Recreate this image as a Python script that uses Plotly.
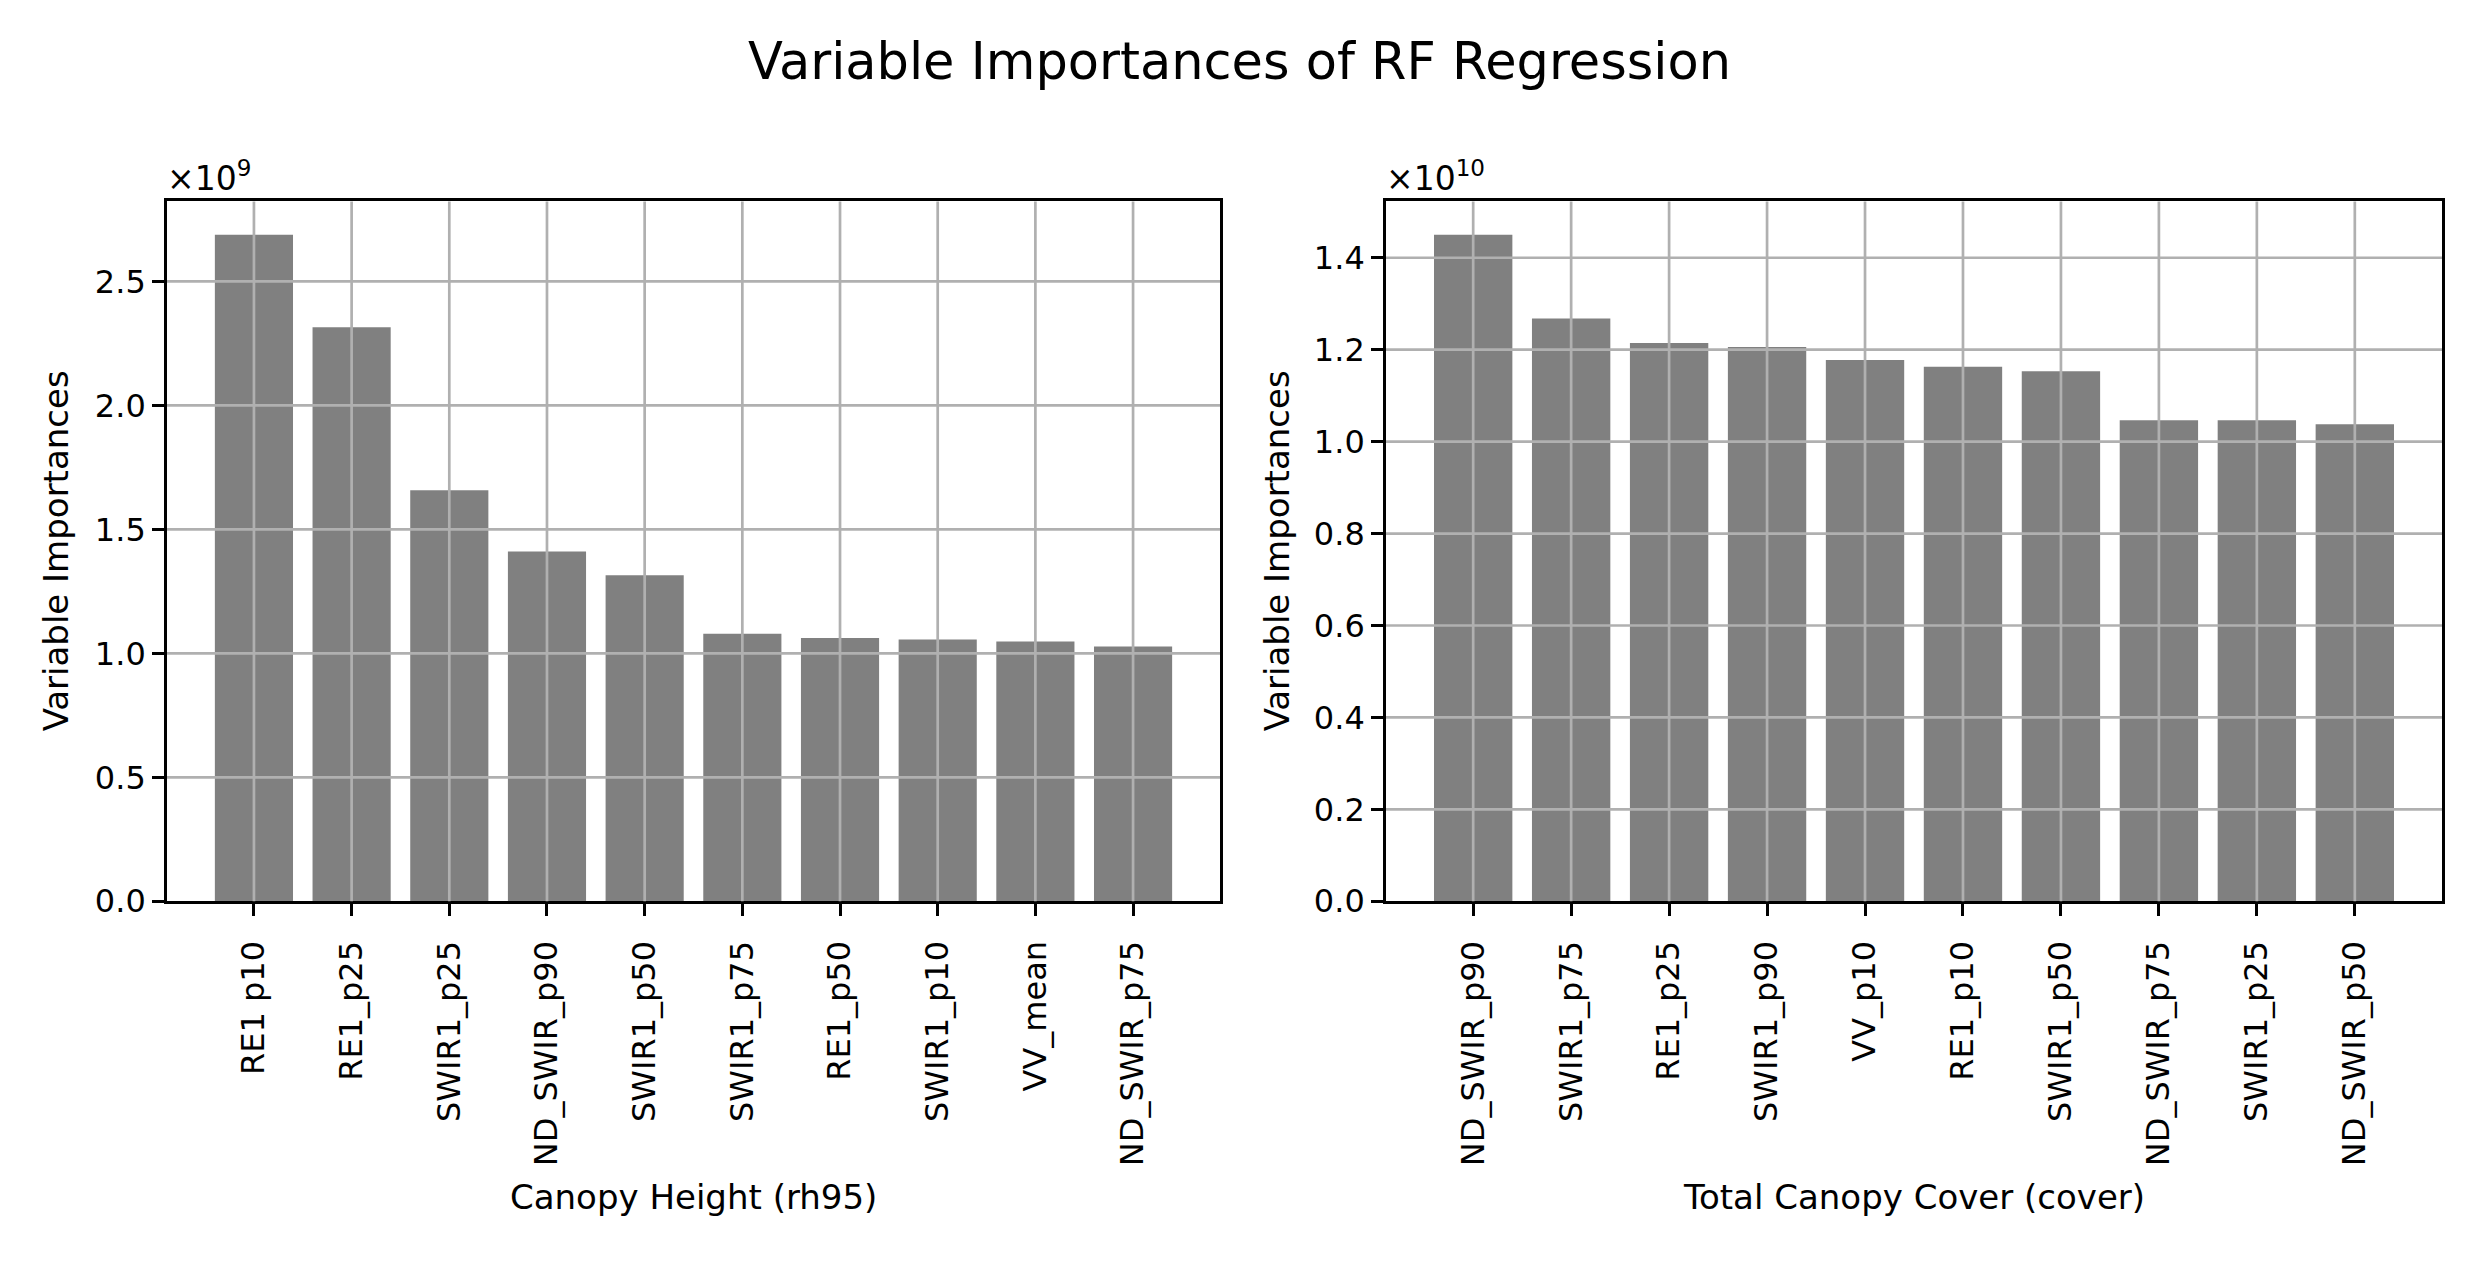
import numpy as np
import plotly.graph_objects as go

# ---------------- data ----------------
height_features = ["RE1 p10", "RE1_p25", "SWIR1_p25", "ND_SWIR_p90", "SWIR1_p50",
                   "SWIR1_p75", "RE1_p50", "SWIR1_p10", "VV_mean", "ND_SWIR_p75"]
height_importance = [2.688e9, 2.315e9, 1.658e9, 1.411e9, 1.3145e9,
                     1.079e9, 1.062e9, 1.056e9, 1.048e9, 1.028e9]

cover_features = ["ND_SWIR_p90", "SWIR1_p75", "RE1_p25", "SWIR1_p90", "VV_p10",
                  "RE1_p10", "SWIR1_p50", "ND_SWIR_p75", "SWIR1_p25", "ND_SWIR_p50"]
cover_importance = [1.450e10, 1.268e10, 1.2145e10, 1.206e10, 1.1775e10,
                    1.163e10, 1.153e10, 1.0465e10, 1.0465e10, 1.038e10]

panels = [
    dict(features=height_features, values=height_importance, exponent=9, dtick=0.5,
         xlabel="Canopy Height (rh95)"),
    dict(features=cover_features, values=cover_importance, exponent=10, dtick=0.2,
         xlabel="Total Canopy Cover (cover)"),
]
suptitle = "Variable Importances of RF Regression"
ylabel = "Variable Importances"

# ---------------- layout geometry ----------------
W, H = 2478, 1266
VS = 1.015  # vertical correction


def py(px_from_top):
    return 1 - (px_from_top * VS) / H


FONT = "DejaVu Sans"
FS = 32
LFS = 34
x_domains = [[167 / W, 1220 / W], [1386 / W, 2442 / W]]
y_domain = [py(901.5), py(201.5)]
ylabel_x = [56 / W, 1277 / W]
GRID = "#b0b0b0"
LW = 2.7

fig = go.Figure()
shapes = []
annotations = []

for k, p in enumerate(panels):
    ax = "" if k == 0 else str(k + 1)
    scale = 10.0 ** p["exponent"]
    yv = [v / scale for v in p["values"]]
    n = len(p["features"])
    fig.add_trace(go.Bar(
        x=p["features"], y=yv, width=0.8, marker=dict(color="#808080", line=dict(width=0)),
        xaxis="x" + ax, yaxis="y" + ax, showlegend=False,
    ))
    ytop = max(yv) * 1.05
    xr = [-0.5 - 0.39, n - 0.5 + 0.39]
    fig.update_layout(**{
        "xaxis" + ax: dict(
            domain=x_domains[k], anchor="y" + ax, type="category",
            categoryorder="array", categoryarray=p["features"],
            range=xr, showgrid=False, showline=True, mirror=True,
            linecolor="black", linewidth=LW, ticks="outside", ticklen=12,
            tickwidth=LW, tickcolor="black", tickangle=-90, ticklabelstandoff=12,
            tickfont=dict(family=FONT, size=FS, color="black"), zeroline=False,
        ),
        "yaxis" + ax: dict(
            domain=y_domain, anchor="x" + ax, range=[0, ytop],
            tick0=0, dtick=p["dtick"], tickformat=".1f", showgrid=False,
            showline=True, mirror=True, linecolor="black", linewidth=LW,
            ticks="outside", ticklen=12, tickwidth=LW, tickcolor="black",
            tickfont=dict(family=FONT, size=FS, color="black"), zeroline=False,
        ),
    })
    # grid lines drawn above bars (as in the original)
    for i in range(n):
        shapes.append(dict(type="line", xref="x" + ax, yref="y" + ax + " domain",
                           x0=i, x1=i, y0=0, y1=1, layer="above",
                           line=dict(color=GRID, width=LW)))
    for t in np.arange(p["dtick"], ytop, p["dtick"]):
        shapes.append(dict(type="line", xref="x" + ax + " domain", yref="y" + ax,
                           x0=0, x1=1, y0=t, y1=t, layer="above",
                           line=dict(color=GRID, width=LW)))
    # offset text
    annotations.append(dict(
        text="×10<sup>%d</sup>" % p["exponent"], xref="x" + ax + " domain", yref="paper",
        x=0, y=py(200), xanchor="left", yanchor="bottom", showarrow=False,
        xshift=-2, font=dict(family=FONT, size=33, color="black"),
    ))
    # x label
    annotations.append(dict(
        text=p["xlabel"], xref="paper", yref="paper",
        x=(x_domains[k][0] + x_domains[k][1]) / 2, y=py(1197),
        xanchor="center", yanchor="middle", showarrow=False,
        font=dict(family=FONT, size=LFS, color="black"),
    ))
    # y label
    annotations.append(dict(
        text=ylabel, xref="paper", yref="paper", x=ylabel_x[k],
        y=(y_domain[0] + y_domain[1]) / 2, xanchor="center", yanchor="middle",
        textangle=-90, showarrow=False, font=dict(family=FONT, size=LFS, color="black"),
    ))

annotations.append(dict(
    text=suptitle, xref="paper", yref="paper", x=0.5, y=py(62),
    xanchor="center", yanchor="middle", showarrow=False,
    font=dict(family=FONT, size=51, color="black"),
))

fig.update_layout(
    width=W, height=H, margin=dict(l=0, r=0, t=0, b=0),
    paper_bgcolor="white", plot_bgcolor="white",
    shapes=shapes, annotations=annotations, bargap=0.2,
)

fig.write_html("out.html")
